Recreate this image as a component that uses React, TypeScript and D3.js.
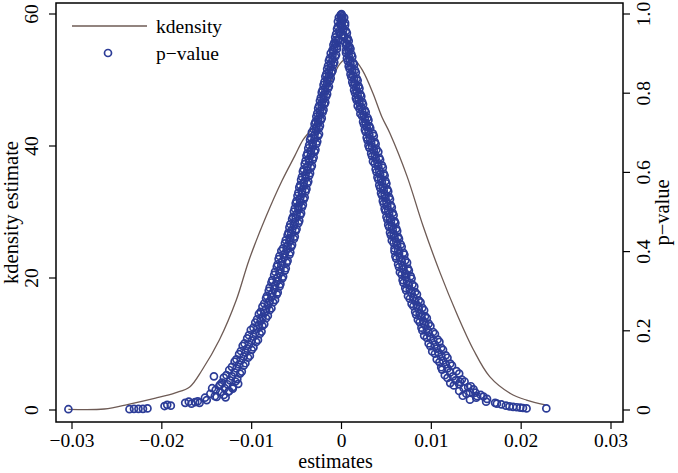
import React from 'react';
import * as d3 from 'd3';

// axis ticks
const xTicks = [-0.03, -0.02, -0.01, 0, 0.01, 0.02, 0.03];
const densityTicks = [0, 20, 40, 60];
const pTicks = [0, 0.2, 0.4, 0.6, 0.8, 1];

// kernel density of the estimates
const kdEstimates = [
  -0.0304, -0.0264, -0.0236, -0.0207, -0.0185, -0.0169, -0.0155, -0.0136, -0.0117, -0.0103, -0.0084,
  -0.0066, -0.0052, -0.0043, -0.003, -0.002, -0.0011, -0.0002, 0.0006, 0.0015, 0.0024, 0.0035, 0.0045,
  0.0054, 0.0073, 0.0091, 0.011, 0.0128, 0.0147, 0.0165, 0.0188, 0.0206, 0.0227,
];
const kdValues = [
  0.1, 0.15, 0.9, 1.8, 2.6, 3.5, 6.1, 10.6, 16.7, 22.7, 29.3, 34.8, 38.5, 40.9, 43.2, 47.0, 50.0, 52.4,
  53.3, 53.0, 51.3, 48.0, 44.4, 41.9, 35.4, 27.8, 20.7, 14.7, 9.1, 5.05, 2.5, 1.5, 0.76,
];

// [estimate, p-value] — negative estimates, band edges
const leftArm: [number, number][] = [
  [-0.0001, 0.997], [0.0, 1.0], [-0.0003, 0.991], [0.0, 0.987], [-0.0004, 0.981], [-0.0001, 0.978],
  [-0.0004, 0.968], [-0.0001, 0.972], [-0.0005, 0.962], [-0.0002, 0.958], [-0.0006, 0.949], [-0.0002, 0.952],
  [-0.0007, 0.941], [-0.0003, 0.937], [-0.0008, 0.928], [-0.0004, 0.932], [-0.0009, 0.922], [-0.0005, 0.918],
  [-0.001, 0.909], [-0.0005, 0.912], [-0.0012, 0.901], [-0.0006, 0.897], [-0.0013, 0.888], [-0.0007, 0.892],
  [-0.0014, 0.882], [-0.0008, 0.878], [-0.0015, 0.869], [-0.0009, 0.872], [-0.0016, 0.861], [-0.001, 0.857],
  [-0.0017, 0.848], [-0.0011, 0.852], [-0.0018, 0.842], [-0.0012, 0.838], [-0.0019, 0.829], [-0.0013, 0.832],
  [-0.002, 0.821], [-0.0014, 0.817], [-0.0021, 0.808], [-0.0015, 0.812], [-0.0022, 0.802], [-0.0016, 0.798],
  [-0.0023, 0.789], [-0.0017, 0.792], [-0.0024, 0.781], [-0.0018, 0.777], [-0.0025, 0.768], [-0.0019, 0.772],
  [-0.0026, 0.762], [-0.002, 0.758], [-0.0027, 0.749], [-0.0021, 0.752], [-0.0028, 0.741], [-0.0022, 0.737],
  [-0.0029, 0.728], [-0.0023, 0.732], [-0.003, 0.722], [-0.0024, 0.718], [-0.0031, 0.709], [-0.0025, 0.712],
  [-0.0033, 0.701], [-0.0025, 0.697], [-0.0034, 0.688], [-0.0026, 0.692], [-0.0035, 0.682], [-0.0027, 0.678],
  [-0.0036, 0.669], [-0.0028, 0.672], [-0.0037, 0.661], [-0.0029, 0.657], [-0.0038, 0.648], [-0.003, 0.652],
  [-0.0039, 0.642], [-0.0031, 0.638], [-0.004, 0.629], [-0.0032, 0.632], [-0.0041, 0.621], [-0.0033, 0.617],
  [-0.0042, 0.608], [-0.0034, 0.612], [-0.0043, 0.602], [-0.0035, 0.598], [-0.0044, 0.589], [-0.0036, 0.592],
  [-0.0045, 0.581], [-0.0037, 0.577], [-0.0046, 0.568], [-0.0038, 0.572], [-0.0047, 0.562], [-0.0039, 0.558],
  [-0.0048, 0.549], [-0.004, 0.552], [-0.0049, 0.541], [-0.0041, 0.537], [-0.005, 0.528], [-0.0042, 0.532],
  [-0.0051, 0.522], [-0.0043, 0.518], [-0.0052, 0.509], [-0.0044, 0.512], [-0.0053, 0.501], [-0.0045, 0.497],
  [-0.0054, 0.488], [-0.0046, 0.492], [-0.0055, 0.482], [-0.0047, 0.478], [-0.0057, 0.469], [-0.0048, 0.472],
  [-0.0058, 0.461], [-0.005, 0.457], [-0.0059, 0.448], [-0.0051, 0.452], [-0.006, 0.442], [-0.0052, 0.438],
  [-0.0062, 0.429], [-0.0053, 0.432], [-0.0063, 0.421], [-0.0055, 0.417], [-0.0065, 0.408], [-0.0056, 0.412],
  [-0.0067, 0.402], [-0.0057, 0.398], [-0.0069, 0.389], [-0.0058, 0.392], [-0.007, 0.381], [-0.006, 0.377],
  [-0.0071, 0.368], [-0.0061, 0.372], [-0.0072, 0.362], [-0.0062, 0.358], [-0.0074, 0.349], [-0.0063, 0.352],
  [-0.0075, 0.341], [-0.0065, 0.337], [-0.0077, 0.328], [-0.0066, 0.332], [-0.0078, 0.322], [-0.0068, 0.318],
  [-0.008, 0.309], [-0.0069, 0.312], [-0.0081, 0.301], [-0.0071, 0.297], [-0.0083, 0.288], [-0.0072, 0.292],
  [-0.0084, 0.282], [-0.0074, 0.278], [-0.0086, 0.269], [-0.0076, 0.272], [-0.0088, 0.261], [-0.0078, 0.257],
  [-0.009, 0.248], [-0.008, 0.252], [-0.0092, 0.242], [-0.0082, 0.238], [-0.0094, 0.229], [-0.0084, 0.232],
  [-0.0096, 0.221], [-0.0086, 0.217], [-0.0098, 0.208], [-0.0088, 0.212], [-0.0101, 0.202], [-0.0089, 0.198],
  [-0.0103, 0.189], [-0.0091, 0.192], [-0.0105, 0.181], [-0.0093, 0.177], [-0.0108, 0.168], [-0.0095, 0.172],
  [-0.011, 0.162], [-0.0098, 0.158], [-0.0112, 0.149], [-0.01, 0.152], [-0.0114, 0.141], [-0.0102, 0.137],
  [-0.0117, 0.128], [-0.0104, 0.132], [-0.0119, 0.122], [-0.0107, 0.118], [-0.0122, 0.109], [-0.0109, 0.112],
  [-0.0125, 0.101], [-0.0111, 0.097], [-0.0128, 0.088], [-0.0113, 0.092], [-0.0131, 0.082], [-0.0116, 0.078],
  [-0.0133, 0.069], [-0.0118, 0.072], [-0.0136, 0.061], [-0.0121, 0.058], [-0.014, 0.051], [-0.0125, 0.048],
  [-0.0146, 0.041], [-0.0131, 0.038], [-0.0152, 0.031], [-0.0139, 0.033], [-0.016, 0.022], [-0.015, 0.025],
  [-0.0142, 0.085], [-0.0135, 0.064], [-0.0126, 0.046], [-0.0121, 0.054], [-0.0129, 0.032], [-0.0144, 0.055],
  [-0.0115, 0.066], [-0.0158, 0.018], [-0.0163, 0.02], [-0.017, 0.021], [-0.0174, 0.018], [-0.0167, 0.016],
  [-0.019, 0.011], [-0.0194, 0.013], [-0.0197, 0.01], [-0.0216, 0.004], [-0.0221, 0.003], [-0.0226, 0.003],
  [-0.0231, 0.003], [-0.0236, 0.002], [-0.0304, 0.002],
];

// [estimate, p-value] — negative estimates, middle of the band
const leftCore: [number, number][] = [
  [-0.0006, 0.935], [-0.0006, 0.925], [-0.0008, 0.915], [-0.0009, 0.905], [-0.001, 0.895], [-0.001, 0.885],
  [-0.0012, 0.875], [-0.0012, 0.865], [-0.0014, 0.855], [-0.0014, 0.845], [-0.0016, 0.835], [-0.0016, 0.825],
  [-0.0018, 0.815], [-0.0018, 0.805], [-0.002, 0.795], [-0.002, 0.785], [-0.0022, 0.775], [-0.0022, 0.765],
  [-0.0024, 0.755], [-0.0024, 0.745], [-0.0026, 0.735], [-0.0026, 0.725], [-0.0028, 0.715], [-0.0028, 0.705],
  [-0.003, 0.695], [-0.003, 0.685], [-0.0032, 0.675], [-0.0032, 0.665], [-0.0034, 0.655], [-0.0034, 0.645],
  [-0.0036, 0.635], [-0.0036, 0.625], [-0.0038, 0.615], [-0.0038, 0.605], [-0.004, 0.595], [-0.004, 0.585],
  [-0.0042, 0.575], [-0.0042, 0.565], [-0.0044, 0.555], [-0.0044, 0.545], [-0.0046, 0.535], [-0.0046, 0.525],
  [-0.0048, 0.515], [-0.0048, 0.505], [-0.005, 0.495], [-0.0051, 0.485], [-0.0052, 0.475], [-0.0053, 0.465],
  [-0.0055, 0.455], [-0.0056, 0.445], [-0.0057, 0.435], [-0.0058, 0.425], [-0.006, 0.415], [-0.0061, 0.405],
  [-0.0063, 0.395], [-0.0064, 0.385], [-0.0066, 0.375], [-0.0067, 0.365], [-0.0068, 0.355], [-0.0069, 0.345],
  [-0.0071, 0.335], [-0.0072, 0.325], [-0.0074, 0.315], [-0.0075, 0.305], [-0.0077, 0.295], [-0.0078, 0.285],
  [-0.008, 0.275], [-0.0082, 0.265], [-0.0084, 0.255], [-0.0086, 0.245], [-0.0088, 0.235], [-0.009, 0.225],
  [-0.0092, 0.215], [-0.0094, 0.205], [-0.0096, 0.195], [-0.0098, 0.185], [-0.01, 0.175], [-0.0103, 0.165],
  [-0.0105, 0.155], [-0.0107, 0.145], [-0.0109, 0.135], [-0.0112, 0.125], [-0.0114, 0.115], [-0.0117, 0.105],
  [-0.0119, 0.095], [-0.0122, 0.085], [-0.0124, 0.075], [-0.0127, 0.065], [-0.013, 0.055], [-0.0135, 0.045],
  [-0.0141, 0.035],
];

// [estimate, p-value] — positive estimates, band edges
const rightArm: [number, number][] = [
  [0.0, 0.998], [0.0001, 0.994], [0.0, 0.988], [0.0003, 0.991], [0.0001, 0.982], [0.0004, 0.978],
  [0.0001, 0.968], [0.0004, 0.972], [0.0002, 0.961], [0.0005, 0.957], [0.0002, 0.948], [0.0006, 0.952],
  [0.0003, 0.942], [0.0007, 0.938], [0.0004, 0.928], [0.0008, 0.932], [0.0005, 0.921], [0.0009, 0.917],
  [0.0005, 0.908], [0.001, 0.912], [0.0005, 0.902], [0.0011, 0.898], [0.0006, 0.888], [0.0012, 0.892],
  [0.0007, 0.881], [0.0013, 0.877], [0.0008, 0.868], [0.0014, 0.872], [0.0009, 0.862], [0.0015, 0.858],
  [0.001, 0.848], [0.0016, 0.852], [0.0011, 0.841], [0.0017, 0.837], [0.0012, 0.828], [0.0018, 0.832],
  [0.0013, 0.822], [0.0019, 0.818], [0.0014, 0.808], [0.002, 0.812], [0.0015, 0.801], [0.0021, 0.797],
  [0.0016, 0.788], [0.0022, 0.792], [0.0017, 0.782], [0.0023, 0.778], [0.0018, 0.768], [0.0024, 0.772],
  [0.002, 0.761], [0.0026, 0.757], [0.0021, 0.748], [0.0027, 0.752], [0.0023, 0.742], [0.0029, 0.738],
  [0.0024, 0.728], [0.003, 0.732], [0.0025, 0.721], [0.0031, 0.717], [0.0026, 0.708], [0.0032, 0.712],
  [0.0027, 0.702], [0.0035, 0.698], [0.0028, 0.688], [0.0036, 0.692], [0.0029, 0.681], [0.0037, 0.677],
  [0.003, 0.668], [0.0038, 0.672], [0.0031, 0.662], [0.0039, 0.658], [0.0033, 0.648], [0.0041, 0.652],
  [0.0034, 0.641], [0.0042, 0.637], [0.0035, 0.628], [0.0043, 0.632], [0.0037, 0.622], [0.0045, 0.618],
  [0.0038, 0.608], [0.0046, 0.612], [0.0039, 0.601], [0.0047, 0.597], [0.004, 0.588], [0.0048, 0.592],
  [0.0041, 0.582], [0.0049, 0.578], [0.0042, 0.568], [0.005, 0.572], [0.0043, 0.561], [0.0051, 0.557],
  [0.0044, 0.548], [0.0052, 0.552], [0.0045, 0.542], [0.0053, 0.538], [0.0046, 0.528], [0.0054, 0.532],
  [0.0047, 0.521], [0.0055, 0.517], [0.0048, 0.508], [0.0056, 0.512], [0.0049, 0.502], [0.0057, 0.498],
  [0.005, 0.488], [0.0058, 0.492], [0.0051, 0.481], [0.0059, 0.477], [0.0052, 0.468], [0.006, 0.472],
  [0.0053, 0.462], [0.0061, 0.458], [0.0054, 0.448], [0.0062, 0.452], [0.0055, 0.441], [0.0063, 0.437],
  [0.0056, 0.428], [0.0064, 0.432], [0.0058, 0.422], [0.0066, 0.418], [0.0059, 0.408], [0.0067, 0.412],
  [0.0059, 0.401], [0.0069, 0.397], [0.006, 0.388], [0.007, 0.392], [0.0061, 0.382], [0.0071, 0.378],
  [0.0063, 0.368], [0.0073, 0.372], [0.0064, 0.361], [0.0074, 0.357], [0.0065, 0.348], [0.0075, 0.352],
  [0.0067, 0.342], [0.0077, 0.338], [0.0068, 0.328], [0.0078, 0.332], [0.0069, 0.321], [0.0079, 0.317],
  [0.0071, 0.308], [0.0081, 0.312], [0.0072, 0.302], [0.0082, 0.298], [0.0074, 0.288], [0.0084, 0.292],
  [0.0076, 0.281], [0.0086, 0.277], [0.0078, 0.268], [0.0088, 0.272], [0.008, 0.262], [0.009, 0.258],
  [0.0082, 0.248], [0.0092, 0.252], [0.0083, 0.241], [0.0093, 0.237], [0.0085, 0.228], [0.0095, 0.232],
  [0.0087, 0.222], [0.0097, 0.218], [0.0089, 0.208], [0.0099, 0.212], [0.009, 0.201], [0.0102, 0.197],
  [0.0092, 0.188], [0.0104, 0.192], [0.0095, 0.182], [0.0107, 0.178], [0.0097, 0.168], [0.0109, 0.172],
  [0.0099, 0.161], [0.0111, 0.157], [0.0101, 0.148], [0.0113, 0.152], [0.0104, 0.142], [0.0116, 0.138],
  [0.0106, 0.128], [0.0118, 0.132], [0.0109, 0.121], [0.0121, 0.117], [0.0111, 0.108], [0.0123, 0.112],
  [0.0112, 0.102], [0.0128, 0.098], [0.0115, 0.088], [0.0131, 0.092], [0.0118, 0.081], [0.0134, 0.077],
  [0.0121, 0.068], [0.0137, 0.072], [0.0125, 0.062], [0.0141, 0.058], [0.0131, 0.048], [0.0147, 0.052],
  [0.0139, 0.041], [0.0155, 0.038], [0.015, 0.031], [0.0162, 0.028], [0.0161, 0.021], [0.0171, 0.018],
  [0.0144, 0.06], [0.0132, 0.071], [0.0149, 0.044], [0.0135, 0.036], [0.0158, 0.034], [0.0143, 0.026],
  [0.0173, 0.016], [0.0178, 0.014], [0.0183, 0.011], [0.0187, 0.009], [0.0191, 0.008], [0.0195, 0.007],
  [0.0199, 0.006], [0.0202, 0.005], [0.0206, 0.004], [0.0228, 0.004],
];

// [estimate, p-value] — positive estimates, middle of the band
const rightCore: [number, number][] = [
  [0.0006, 0.935], [0.0006, 0.925], [0.0007, 0.915], [0.0008, 0.905], [0.0008, 0.895], [0.0009, 0.885],
  [0.001, 0.875], [0.0011, 0.865], [0.0012, 0.855], [0.0013, 0.845], [0.0014, 0.835], [0.0015, 0.825],
  [0.0016, 0.815], [0.0017, 0.805], [0.0018, 0.795], [0.0019, 0.785], [0.002, 0.775], [0.0022, 0.765],
  [0.0023, 0.755], [0.0025, 0.745], [0.0026, 0.735], [0.0027, 0.725], [0.0028, 0.715], [0.003, 0.705],
  [0.0031, 0.695], [0.0032, 0.685], [0.0033, 0.675], [0.0034, 0.665], [0.0036, 0.655], [0.0037, 0.645],
  [0.0038, 0.635], [0.004, 0.625], [0.0041, 0.615], [0.0042, 0.605], [0.0043, 0.595], [0.0044, 0.585],
  [0.0045, 0.575], [0.0046, 0.565], [0.0047, 0.555], [0.0048, 0.545], [0.0049, 0.535], [0.005, 0.525],
  [0.0051, 0.515], [0.0052, 0.505], [0.0053, 0.495], [0.0054, 0.485], [0.0055, 0.475], [0.0056, 0.465],
  [0.0057, 0.455], [0.0058, 0.445], [0.0059, 0.435], [0.0061, 0.425], [0.0062, 0.415], [0.0063, 0.405],
  [0.0064, 0.395], [0.0065, 0.385], [0.0067, 0.375], [0.0068, 0.365], [0.0069, 0.355], [0.0071, 0.345],
  [0.0072, 0.335], [0.0073, 0.325], [0.0075, 0.315], [0.0076, 0.305], [0.0078, 0.295], [0.008, 0.285],
  [0.0082, 0.275], [0.0084, 0.265], [0.0086, 0.255], [0.0087, 0.245], [0.0089, 0.235], [0.0091, 0.225],
  [0.0093, 0.215], [0.0095, 0.205], [0.0097, 0.195], [0.0099, 0.185], [0.0102, 0.175], [0.0104, 0.165],
  [0.0106, 0.155], [0.0108, 0.145], [0.0111, 0.135], [0.0113, 0.125], [0.0116, 0.115], [0.0118, 0.105],
  [0.0121, 0.095], [0.0124, 0.085], [0.0127, 0.075], [0.0131, 0.065], [0.0136, 0.055], [0.0143, 0.045],
  [0.0151, 0.035],
];

const W = 678;
const H = 473;
const frame = { left: 56, right: 623, top: 3, bottom: 422 };
const font = '"Liberation Serif", Tinos, "Times New Roman", "DejaVu Serif", serif';
const dotColor = '#2c3c97';
const lineColor = '#6e5b55';

export default function App() {
  const x = d3.scaleLinear().domain([-0.03, 0.03]).range([72, 611]);
  const yK = d3.scaleLinear().domain([0, 60]).range([410, 14]);
  const yP = d3.scaleLinear().domain([0, 1]).range([410, 14]);

  const kdLine = d3
    .line<number>()
    .x((d) => x(d))
    .y((_, i) => yK(kdValues[i]))
    .curve(d3.curveCatmullRom)(kdEstimates);

  const points = [...leftArm, ...leftCore, ...rightArm, ...rightCore];
  const fmtX = (d: number) => (d === 0 ? '0' : d3.format('.2f')(d));
  const fmtP = (d: number) => (d === 0 ? '0' : d3.format('.1f')(d));

  return (
    <svg
      width={W}
      height={H}
      style={{ position: 'absolute', left: 0, top: 0, background: '#fff', fontFamily: font }}
    >
      <rect x={0} y={0} width={W} height={H} fill="#fff" />

      <path d={kdLine || ''} fill="none" stroke={lineColor} strokeWidth={1.3} />

      <g fill="none" stroke={dotColor} strokeWidth={1.7}>
        {points.map(([e, p], i) => (
          <circle key={i} cx={x(e)} cy={yP(p)} r={3.5} />
        ))}
      </g>

      <rect
        x={frame.left}
        y={frame.top}
        width={frame.right - frame.left}
        height={frame.bottom - frame.top}
        fill="none"
        stroke="#000"
        strokeWidth={1.5}
      />

      {/* x axis */}
      {xTicks.map((t) => (
        <g key={t}>
          <line x1={x(t)} x2={x(t)} y1={frame.bottom} y2={frame.bottom + 7} stroke="#000" strokeWidth={1.2} />
          <text x={x(t)} y={447} fontSize={19.5} textAnchor="middle">
            {fmtX(t)}
          </text>
        </g>
      ))}
      <text x={(frame.left + frame.right) / 2 - 4} y={468} fontSize={20} textAnchor="middle">
        estimates
      </text>

      {/* left axis */}
      {densityTicks.map((t) => (
        <g key={t}>
          <line x1={frame.left - 7} x2={frame.left} y1={yK(t)} y2={yK(t)} stroke="#000" strokeWidth={1.2} />
          <text transform={`translate(38,${yK(t)}) rotate(-90)`} fontSize={19.5} textAnchor="middle">
            {t}
          </text>
        </g>
      ))}
      <text transform={`translate(18,${(frame.top + frame.bottom) / 2}) rotate(-90)`} fontSize={20.5} textAnchor="middle">
        kdensity estimate
      </text>

      {/* right axis */}
      {pTicks.map((t) => (
        <g key={t}>
          <line x1={frame.right} x2={frame.right + 7} y1={yP(t)} y2={yP(t)} stroke="#000" strokeWidth={1.2} />
          <text transform={`translate(650,${yP(t)}) rotate(-90)`} fontSize={19.5} textAnchor="middle">
            {fmtP(t)}
          </text>
        </g>
      ))}
      <text transform={`translate(669,${(frame.top + frame.bottom) / 2}) rotate(-90)`} fontSize={20.5} textAnchor="middle">
        p−value
      </text>

      {/* legend */}
      <line x1={72} x2={147} y1={26} y2={26} stroke={lineColor} strokeWidth={1.3} />
      <text x={156} y={33} fontSize={19.5}>
        kdensity
      </text>
      <circle cx={108} cy={53} r={3.5} fill="none" stroke={dotColor} strokeWidth={1.7} />
      <text x={156} y={60} fontSize={19.5}>
        p−value
      </text>
    </svg>
  );
}
